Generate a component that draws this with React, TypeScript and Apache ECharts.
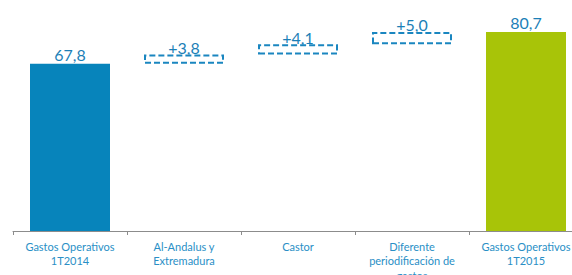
import React, { useEffect, useRef } from "react";
import * as echarts from "echarts";

const categories = [
  "Gastos Operativos\n1T2014",
  "Al-Andalus y\nExtremadura",
  "Castor",
  "Diferente\nperiodificación de\ngastos",
  "Gastos Operativos\n1T2015",
];
const totals: (number | null)[] = [67.8, null, null, null, 80.7];
const deltas: (number | null)[] = [null, 3.8, 4.1, 5.0, null];

const fmt = (v: number) => v.toFixed(1).replace(".", ",");

export default function App() {
  const ref = useRef<HTMLDivElement>(null);
  useEffect(() => {
    if (!ref.current) return;
    const chart = echarts.init(ref.current, null, { renderer: "svg" });
    // invisible base for the waterfall steps: running total before each step
    let running = 0;
    const base: (number | null)[] = categories.map((_, i) => {
      if (totals[i] != null) {
        running = totals[i] as number;
        return null;
      }
      const b = running;
      running += deltas[i] as number;
      return b;
    });
    const font = "Lato, 'Open Sans', sans-serif";
    chart.setOption({
      animation: false,
      grid: { left: 13, right: 1, top: 9, bottom: 44, containLabel: false, outerBoundsMode: "none" },
      xAxis: {
        type: "category",
        data: categories,
        axisLine: { lineStyle: { color: "#8c8c8c", width: 1 } },
        axisTick: { show: true, length: 4, lineStyle: { color: "#8c8c8c" } },
        axisLabel: {
          color: "#2a8fc6",
          fontSize: 11,
          lineHeight: 14.5,
          margin: 8,
          fontFamily: font,
          interval: 0,
        },
      },
      yAxis: { type: "value", min: 0, max: 90, show: false, splitLine: { show: false } },
      series: [
        {
          type: "bar",
          stack: "w",
          data: base,
          barWidth: 80,
          silent: true,
          itemStyle: { color: "transparent" },
        },
        {
          type: "bar",
          stack: "w",
          data: deltas,
          barWidth: 80,
          itemStyle: {
            color: "rgba(255,255,255,0)",
            borderColor: "#1a86c0",
            borderWidth: 2,
            borderType: [6, 3],
          },
          label: {
            show: true,
            position: "top",
            distance: -1,
            color: "#1c7fb7",
            fontSize: 16,
            fontFamily: font,
            formatter: (p: any) => "+" + fmt(p.value),
          },
        },
        {
          type: "bar",
          stack: "w",
          data: categories.map((_, i) => ({
            value: totals[i],
            itemStyle: { color: i === 0 ? "#0784bb" : "#a8c408" },
          })),
          barWidth: 80,
          label: {
            show: true,
            position: "top",
            distance: 1,
            color: "#1c7fb7",
            fontSize: 16,
            fontFamily: font,
            formatter: (p: any) => fmt(p.value),
          },
        },
      ],
    });
    return () => chart.dispose();
  }, []);
  return (
    <div
      style={{
        position: "fixed",
        left: 0,
        top: 0,
        width: 572,
        height: 275,
        overflow: "hidden",
        background: "#fff",
      }}
    >
      <div ref={ref} style={{ width: 584, height: 275 }} />
    </div>
  );
}
